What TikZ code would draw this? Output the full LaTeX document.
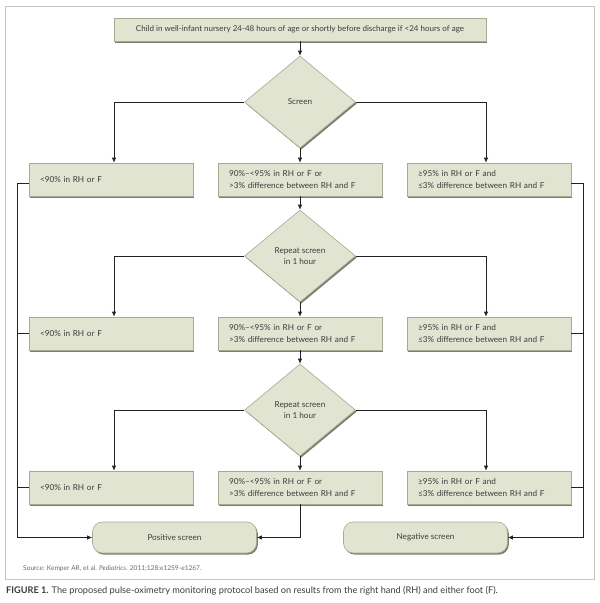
\documentclass[tikz,border=0pt]{standalone}
\usepackage{fontspec}
\setmainfont{Lato}
\usetikzlibrary{shapes.geometric,arrows.meta,shadows}
\definecolor{boxfill}{HTML}{E2E4D2}
\definecolor{boxdraw}{HTML}{A6AA90}
\definecolor{shadec}{HTML}{66685A}
\definecolor{linec}{HTML}{222222}
\definecolor{framec}{HTML}{C4C4C4}
\definecolor{txt}{HTML}{3C3C3C}
\definecolor{srcc}{HTML}{6A6A6A}
\tikzset{
  base/.style={fill=boxfill, draw=boxdraw, line width=0.6pt, text=txt,
    font=\fontsize{8.2}{11.5}\selectfont,
    drop shadow={shadow xshift=1.3pt, shadow yshift=-1.6pt, fill=shadec, opacity=0.85}},
  rbox/.style={base, rectangle, minimum width=164pt, minimum height=33pt,
    inner xsep=11pt, inner ysep=0pt, text width=142pt, align=left},
  topbox/.style={base, rectangle, minimum width=372pt, minimum height=23pt, inner sep=0pt, align=center,
    font=\fontsize{8.0}{10}\selectfont},
  dia/.style={base, diamond, minimum width=111pt, minimum height=92pt, inner sep=0pt, align=center},
  term/.style={base, rectangle, rounded corners=10pt, minimum width=164pt, minimum height=31pt, inner sep=0pt, align=center},
  ln/.style={draw=linec, line width=0.8pt},
  arr/.style={ln, -{Latex[length=5pt,width=4.5pt]}},
}
\begin{document}
\begin{tikzpicture}[x=1pt,y=-1pt]
\useasboundingbox (0,0) rectangle (600,603);
\fill[white] (0,0) rectangle (600,603);
\draw[framec, line width=0.8pt] (5,6.5) rectangle (594,579);

\node[topbox] (top) at (300,29.5) {Child in well-infant nursery 24-48 hours of age or shortly before discharge if <24 hours of age};

\node[dia] (d1) at (300,102) {Screen};
\node[dia] (d2) at (300,256) {Repeat screen\\in 1 hour};
\node[dia] (d3) at (300,410) {Repeat screen\\in 1 hour};

\foreach \r/\y in {1/179.5,2/333.5,3/487.5}{
  \node[rbox] (l\r) at (111,\y) {<90\% in RH or F};
  \node[rbox] (m\r) at (300,\y) {90\%--<95\% in RH or F or\\>3\% difference between RH and F};
  \node[rbox] (r\r) at (489,\y) {≥95\% in RH or F and\\≤3\% difference between RH and F};
}

\node[term] (pos) at (174.5,537.5) {Positive screen};
\node[term] (neg) at (425.5,537.5) {Negative screen};

% top to diamond
\draw[arr] (top.south) -- (d1.north);
% diamonds to rows
\foreach \r in {1,2,3}{
  \draw[arr] (d\r.west) -| ([xshift=3pt]l\r.north);
  \draw[arr] (d\r.east) -| ([xshift=-3pt]r\r.north);
  \draw[arr] (d\r.south) -- (m\r.north);
}
\draw[arr] (m1.south) -- (d2.north);
\draw[arr] (m2.south) -- (d3.north);

% buses
\coordinate (bl) at (17,183);
\coordinate (br) at (583,183);
\draw[ln] (l1.west |- bl) -- (bl);
\draw[arr] (bl) |- (pos.west);
\draw[ln] (l2.west) -- (l2.west -| bl);
\draw[ln] (l3.west) -- (l3.west -| bl);
\draw[ln] (r1.east |- br) -- (br);
\draw[arr] (br) |- (neg.east);
\draw[ln] (r2.east) -- (r2.east -| br);
\draw[ln] (r3.east) -- (r3.east -| br);
\draw[arr] (m3.south) |- (pos.east);

\node[anchor=west, inner sep=0pt, text=srcc, font=\fontsize{6.6}{8}\selectfont] (src) at (23,569)
  {Source: Kemper AR, et al. \textit{Pediatrics}. 2011;128:e1259-e1267.};
\node[anchor=west, inner sep=0pt, text=txt, font=\fontsize{9.2}{11}\selectfont] (cap) at (6,591)
  {\textbf{FIGURE 1.} The proposed pulse-oximetry monitoring protocol based on results from the right hand (RH) and either foot (F).};
\end{tikzpicture}
\end{document}
